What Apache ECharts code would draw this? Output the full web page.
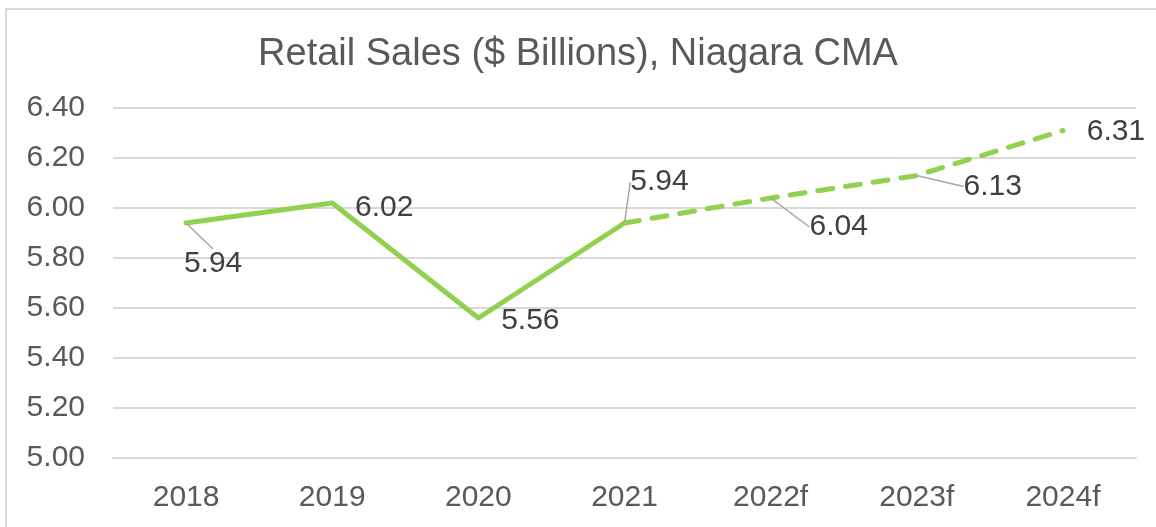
<!DOCTYPE html>
<html>
<head>
<meta charset="utf-8">
<script src="https://cdn.jsdelivr.net/npm/echarts@6/dist/echarts.min.js"></script>
<style>
  html, body { margin: 0; padding: 0; background: #fff; }
  #frame {
    position: absolute; left: 5px; top: 8px; width: 1200px; height: 600px;
    border-left: 2px solid #d9d9d9; border-top: 2px solid #d9d9d9;
  }
  #chart { position: absolute; left: 0; top: 0; width: 1156px; height: 527px; }
</style>
</head>
<body>
<div id="frame"></div>
<div id="chart"></div>
<script>
const years = ['2018', '2019', '2020', '2021', '2022f', '2023f', '2024f']
const actual = [5.94, 6.02, 5.56, 5.94, null, null, null]
const forecast = [null, null, null, 5.94, 6.04, 6.13, 6.31]
const yTicks = [5.0, 5.2, 5.4, 5.6, 5.8, 6.0, 6.2, 6.4]

// where each value label sits, relative to its point (dx, dy) and whether a leader line is drawn
const labelShift = [
  [27, 41, true],
  [52, 5, false],
  [52, 3, false],
  [35, -41, true],
  [68, 29, true],
  [76, 11, true],
  [53, 1, false],
]

const green = '#92d050'
const font = '"Liberation Sans", Arial, sans-serif'

const chart = echarts.init(document.getElementById('chart'), null, { renderer: 'canvas' })

function labelled(values, skip) {
  return values.map((v, i) => {
    if (v == null) return '-'
    if (skip.includes(i)) return { value: v, label: { show: false } }
    return {
      value: v,
      labelLine: { show: labelShift[i][2] }
    }
  })
}

let option = {
  animation: false,
  title: {
    text: 'Retail Sales ($ Billions), Niagara CMA',
    left: 'center',
    top: 31,
    textStyle: { fontFamily: font, fontSize: 38, fontWeight: 'normal', color: '#595959' }
  },
  grid: { left: 113, right: 20, top: 108, bottom: 69, containLabel: false },
  xAxis: {
    type: 'category',
    data: years,
    boundaryGap: true,
    axisLine: { show: true, lineStyle: { color: '#d9d9d9', width: 2 } },
    axisTick: { show: false },
    axisLabel: { fontFamily: font, fontSize: 30, color: '#595959', margin: 25 }
  },
  yAxis: {
    type: 'value',
    min: yTicks[0],
    max: yTicks[yTicks.length - 1],
    interval: 0.2,
    axisLine: { show: false },
    axisTick: { show: false },
    splitLine: { lineStyle: { color: '#d9d9d9', width: 2 } },
    axisLabel: {
      fontFamily: font, fontSize: 30, color: '#595959', margin: 28,
      formatter: v => v.toFixed(2)
    }
  },
  series: [
    {
      type: 'line',
      data: labelled(actual, []),
      symbol: 'circle',
      symbolSize: 2,
      itemStyle: { color: green },
      lineStyle: { color: green, width: 5, cap: 'round', join: 'round' },
      label: {
        show: true, position: 'inside',
        fontFamily: font, fontSize: 30, color: '#404040',
        formatter: p => p.value.toFixed(2)
      },
      labelLine: { show: true, lineStyle: { color: '#a6a6a6', width: 1.5 } },
      labelLayout: p => ({ dx: labelShift[p.dataIndex][0], dy: labelShift[p.dataIndex][1] }),
      z: 3
    },
    {
      type: 'line',
      data: labelled(forecast, [3]),
      symbol: 'circle',
      symbolSize: 2,
      itemStyle: { color: green },
      lineStyle: { color: green, width: 5, type: [15, 13], cap: 'round' },
      label: {
        show: true, position: 'inside',
        fontFamily: font, fontSize: 30, color: '#404040',
        formatter: p => p.value.toFixed(2)
      },
      labelLine: { show: true, lineStyle: { color: '#a6a6a6', width: 1.5 } },
      labelLayout: p => ({ dx: labelShift[p.dataIndex][0], dy: labelShift[p.dataIndex][1] }),
      z: 2
    }
  ]
}

option && chart.setOption(option)
window.addEventListener('resize', function() {
  chart?.resize()
})
</script>
</body>
</html>
